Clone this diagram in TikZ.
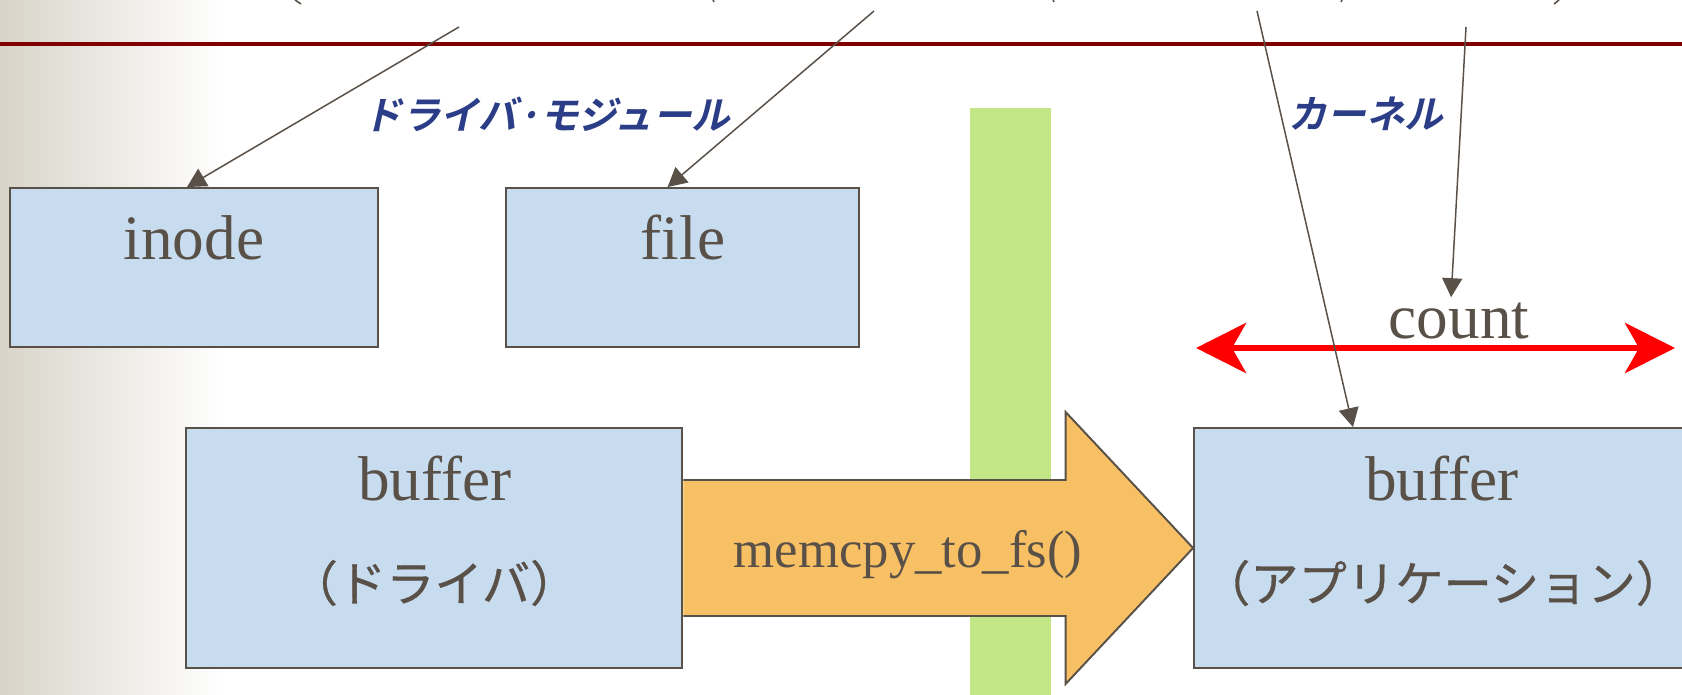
\documentclass[tikz,border=0pt]{standalone}
\usepackage{fontspec}
\setmainfont{Liberation Serif}
\newfontfamily\jpfont[FakeBold=0.7]{Noto Sans CJK JP}
\newfontfamily\jpboldit[FakeSlant=0.22]{Noto Sans CJK JP Bold}
\usetikzlibrary{arrows.meta,calc}
\definecolor{boxfill}{HTML}{C8DCEF}
\definecolor{inkgray}{HTML}{595048}
\definecolor{bargreen}{HTML}{C3E687}
\definecolor{copyorange}{HTML}{F8C064}
\definecolor{ruleRed}{HTML}{800000}
\definecolor{labelblue}{HTML}{2B3D86}
\definecolor{sidebeige}{HTML}{D8D4C9}

\begin{document}
\begin{tikzpicture}[x=0.02cm, y=-0.02cm, >={Triangle[length=0.38cm,width=0.4cm]},
		every node/.style={text=inkgray},
		kbox/.style={draw=inkgray, line width=1.1pt, fill=boxfill, minimum height=3.18cm},
		big/.style={font=\fontsize{36}{40}\selectfont, anchor=base},
		jptxt/.style={font=\jpfont\fontsize{27.5}{31}\selectfont},
		tag/.style={text=labelblue, font=\jpboldit\fontsize{22}{26}\selectfont},
		ptr/.style={draw=inkgray, line width=0.85pt}]
				\useasboundingbox (0,0) rectangle (1682,695);
				
				% 1. 背景 (底层)
				\shade[left color=sidebeige, right color=white] (0,0) rectangle (225,695);
				\draw[ruleRed, line width=2.45pt] (0,43.8) -- (1682,43.8);
				\fill[bargreen] (970,108) rectangle (1051,695);
				
				% 2. 方框
				\node[kbox, minimum width=7.36cm] (inode) at (194,267.5) {};
				\node[kbox, minimum width=7.06cm] (file) at (682.5,267.5) {};
				\node[kbox, minimum width=9.93cm, minimum height=4.8cm] (drvbuf) at (434.25,548) {};
				\node[kbox, minimum width=10.32cm, minimum height=4.8cm] (appbuf) at (1452,548) {};
				
				% 3. 复制箭头
				\draw[inkgray, fill=copyorange, line width=1.1pt]
					($(drvbuf.east)+(0,-68)$) -- ($(appbuf.west)+(-127.5,-68)$)
					-- ($(appbuf.west)+(-127.5,-136)$) -- (appbuf.west)
					-- ($(appbuf.west)+(-127.5,136)$) -- ($(appbuf.west)+(-127.5,68)$)
					-- ($(drvbuf.east)+(0,68)$);
				
				% 4. 文字
				\node[big] (inodetxt) at (194,260) {inode};
				\node[big] (filetxt) at (683,260) {file};
				\node[big] (drvbuftxt) at (435,500) {buffer};
				\node[jptxt] (drvname) at (434,583) {（ドライバ）};
				\node[big] (appbuftxt) at (1442,500) {buffer};
				\node[jptxt] (appname) at (1443,583) {（アプリケーション）};
				\node[big, font=\fontsize{30}{34}\selectfont] (copyfn) at (908,567) {memcpy\_to\_fs()};
				\node[big] (count) at (1459,339) {count};
				\node[tag] (drvmod) at (547,114) {ドライバ·モジュール};
				\node[tag] (kernel) at (1366,114) {カーネル};
				
				% 5. count 双向箭头
				\coordinate (cntL) at (1196,348);
				\coordinate (cntR) at (1675,348);
				\draw[red, line width=3.8pt, {Stealth[length=1cm,width=1cm,inset=0.28cm]}-{Stealth[length=1cm,width=1cm,inset=0.28cm]}] (cntL) -- (cntR);
				
				% 6. 参数指针
				\coordinate (p1) at (459,27);
				\coordinate (p2) at (874,11);
				\coordinate (p3) at (1257,11);
				\coordinate (p4) at (1466,27);
				\draw[ptr, ->] (p1) -- ([xshift=-4pt]inode.north);
				\draw[ptr, ->] (p2) -- ([xshift=-8.5pt]file.north);
				\draw[ptr, ->] (p3) -- ([xshift=91pt]appbuf.north west);
				\draw[ptr, ->] (p4) -- ([xshift=-4.5pt]count.north);
				
				% 7. 上方残字
				\draw[inkgray, line width=0.9pt] (295,0) -- (301,4);
				\draw[inkgray, line width=0.9pt] (713,0) -- (714,2);
				\draw[inkgray, line width=0.9pt] (1053,0) -- (1054,2);
				\draw[inkgray, line width=0.9pt] (1342,0) -- (1341,2);
				\draw[inkgray, line width=0.9pt] (1559,0) -- (1554,4);
			\end{tikzpicture}
\end{document}
